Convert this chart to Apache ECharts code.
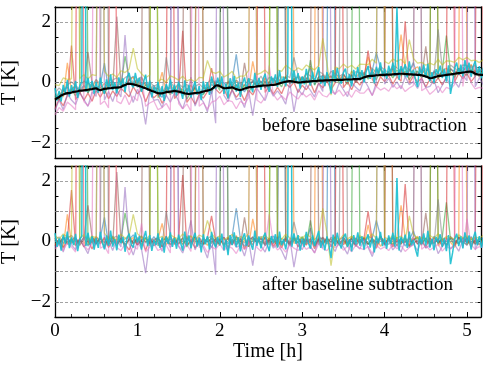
<!DOCTYPE html>
<html>
<head>
<meta charset="utf-8">
<script src="https://cdn.jsdelivr.net/npm/echarts@6/dist/echarts.min.js"></script>
<style>html,body{margin:0;padding:0;background:#fff}#c{width:488px;height:370px}</style>
</head>
<body>
<div id="c"></div>
<script>
// ---- data (hundredths of K) ----
// most sensors sampled every 0.05 h, cyan sensor and baseline every 0.025 h (0 .. 5.2 h)
const coarseStepH = 0.05;
const fineStepH = 0.025;
const xTickLabels = ['0','1','2','3','4','5'];
const yTickLabels = ['\u22122','0','2'];
const panelTexts = ['before baseline subtraction','after baseline subtraction'];

// baseline (black line in the upper panel), every 0.025 h
const baseline = [
-57,-52,-48,-43,-40,-37,-35,-35,-33,-31,-30,-29,-27,-27,-26,-25,-24,-23,-22,-20,
-19,-23,-26,-23,-21,-20,-19,-19,-18,-17,-17,-16,-15,-11,-8,-5,-4,-5,-6,-8,
-10,-12,-14,-17,-19,-22,-25,-28,-30,-33,-35,-36,-36,-34,-32,-31,-30,-29,-28,-29,
-30,-32,-34,-36,-37,-38,-37,-36,-35,-34,-34,-32,-30,-28,-27,-25,-22,-17,-10,-9,
-12,-16,-19,-19,-18,-17,-16,-19,-22,-24,-25,-23,-20,-18,-16,-15,-15,-14,-13,-12,
-11,-10,-10,-10,-9,-8,-8,-7,-5,-3,-1,1,3,4,5,4,3,1,0,0,
1,2,3,3,4,5,5,5,6,6,6,7,7,7,8,8,8,9,9,9,
9,10,10,10,10,11,11,11,12,14,17,19,21,22,22,23,24,24,25,25,
25,26,26,26,27,28,28,29,29,29,28,28,27,27,26,26,25,25,24,22,
20,17,14,15,17,19,21,22,23,24,25,26,27,28,29,30,31,32,33,34,
35,36,36,33,29,27,26,25,25];

// per-sensor offsets before subtraction (hundredths of K)
const sensorOffsets = [5,10,0,-15,-15,5,-25,15,30,10];

// after baseline subtraction, per sensor (every 0.05 h)
const blueAfter = [
5,-12,8,15,-6,10,-3,12,-15,6,
-8,14,80,-10,18,-5,9,-14,7,22,
-11,4,13,-7,16,-2,-18,10,5,2000,
8,-9,12,-4,15,2000,-12,6,-20,11,
3,14,-8,17,110,9,-16,7,13,-3,
10,-14,6,18,-9,2000,4,-11,15,-6,
12,-3,45,-17,8,11,-7,2000,5,-10,
14,-6,9,-13,16,3,-8,12,70,18,
-11,7,13,-5,10,-15,6,35,-9,14,
2,-12,17,-6,9,-14,11,4,-8,13,
-5,16,-10,7,12];
const orangeAfter = [
-10,6,-18,90,-4,15,2000,-9,14,-6,
17,-3,8,-12,2000,-7,10,-16,5,13,
-8,19,-2,11,-14,7,60,-11,9,-5,
14,-10,5,18,-7,2000,3,-13,16,-2,
9,-15,12,-6,20,-9,4,-17,75,6,
-12,15,-4,8,-18,10,3,2000,-7,12,
-5,16,-9,7,2000,-13,11,-3,14,-8,
6,-14,18,-2,9,-11,55,-6,13,-16,
4,2000,-9,15,120,11,-13,7,17,-4,
10,-8,2000,-15,6,12,-3,-19,9,2000,
-10,14,-6,8,-12];
const greenAfter = [
12,-8,15,-5,9,-14,6,2000,-11,17,
-4,10,-16,8,13,-9,4,95,18,-6,
7,-12,11,-3,2000,-15,9,6,-10,14,
-7,12,-18,5,16,-4,-10,13,-6,9,
-14,2000,7,-9,15,-2,11,-17,6,12,
-5,14,-11,2000,8,-13,17,-6,10,-3,
16,-9,70,-14,12,-7,9,-2,15,-12,
6,-16,11,2000,-5,13,-10,7,-15,18,
-3,9,-12,14,-7,10,-18,5,13,-8,
11,-6,2000,-9,15,130,7,-13,16,-2,
-11,8,-7,13,-4];
const redAfter = [
-15,8,-22,6,170,-12,10,-18,4,-25,
9,-8,14,-20,5,-14,11,-9,-28,7,
-12,6,-30,10,-6,13,-18,4,2000,-10,
8,220,-14,5,-22,10,-7,12,85,3,
-9,14,-20,7,-12,9,-25,6,-11,15,
2000,-8,11,-16,4,-21,9,-6,13,-18,
5,-12,10,-24,7,-9,14,-17,6,2000,
-11,8,-19,12,-6,10,100,4,-22,9,
-7,13,-18,6,-10,190,-14,11,-8,5,
-20,12,-6,9,-16,7,2000,-11,14,-5,
10,-18,6,2000,-9];
const purpleAfter = [
-20,5,-35,12,-10,-28,8,-15,-40,6,
-12,2000,-22,4,-30,9,-18,180,-8,-45,
3,-25,-105,10,-14,-6,-32,5,-20,8,
-16,-38,7,70,-28,4,-19,-55,10,-110,
2000,-9,-30,6,-20,-12,-48,3,-80,9,
-14,-35,5,-22,-8,-30,-60,11,-85,-6,
-27,4,-15,-38,7,-21,2000,-10,-33,5,
-18,-42,6,-12,-25,8,-20,-50,-9,2000,
-15,3,-28,-11,-35,6,-19,-8,-30,4,
-22,-12,5,-40,-17,7,-25,-10,-32,6,
-14,2000,-28,5,-19];
const brownAfter = [
10,-5,14,-9,6,12,-13,8,120,15,
-7,11,-4,16,-10,230,5,-12,9,-6,
13,-8,2000,-14,7,10,-5,17,-11,4,
-9,12,2000,-6,15,-13,8,-2,11,-16,
6,-10,14,-4,9,-15,80,-7,16,-3,
11,-12,5,-8,17,-6,10,-14,3,13,
-9,7,-4,2000,-11,14,-2,9,-13,6,
15,-7,11,-16,4,12,-9,8,-5,17,
-10,2000,6,-13,11,-4,14,-8,5,-12,
95,-15,13,-3,7,-10,16,-6,11,-2,
14,-9,5,-12,8];
const pinkAfter = [
-25,-10,-30,-5,-18,-35,2000,-12,-28,-8,
2000,-22,-15,-40,2000,-20,-30,-8,-45,-14,
-26,60,-35,-18,-6,-30,-22,-12,-38,2000,
-15,-28,-9,-33,2000,-20,-12,-36,-18,-25,
-8,-30,-16,-22,-40,-12,-27,-9,2000,-20,
-32,-14,90,-6,-28,-18,-35,-11,-22,-30,
-10,-26,-17,-38,-8,-24,-30,-13,-20,-9,
-29,-15,-34,-11,-22,-27,-16,-40,-12,-25,
-18,-30,-9,-24,-14,-33,-20,-11,2000,-26,
-13,-28,-19,-8,-32,-16,-24,-10,2000,-21,
75,-12,-25,-17,-20];
const grayAfter = [
8,15,-6,12,20,4,-9,16,7,-3,
14,5,2000,-8,11,18,-4,9,13,-10,
6,17,-5,12,2,15,-12,100,19,-6,
11,3,16,-9,7,14,-3,10,18,-7,
5,2000,9,-12,15,6,-5,13,8,-2,
17,-8,11,4,-10,2000,7,-4,65,9,
-6,12,3,-11,16,8,-9,14,5,-3,
2000,7,-12,10,4,-7,18,9,-5,13,
2,-10,15,6,-8,12,-3,17,2000,-6,
11,4,-9,140,8,-12,16,3,-7,10,
6,-4,13,-8,9];
const oliveAfter = [
20,8,25,15,15,2000,10,22,5,18,
12,2000,28,9,16,4,24,11,19,90,
26,13,5,20,2000,10,17,3,22,14,
8,25,12,18,6,21,15,70,27,10,
19,7,14,23,5,16,11,26,2000,9,
13,21,6,2000,17,8,24,12,3,19,
10,25,15,7,20,110,28,-80,14,6,
22,9,17,4,19,13,8,25,10,2000,
15,6,21,12,18,3,85,24,9,13,
7,20,11,26,5,17,14,8,22,12,
18,6,15,10,21];
// cyan sensor, every 0.025 h
const cyanAfter = [
28,-18,10,-30,22,-8,33,-22,14,-12,25,-32,6,18,2000,-15,29,-9,17,-27,
11,-21,32,-5,-26,20,-14,36,-17,8,-29,23,-6,15,-34,12,26,-11,-20,30,
-3,18,-27,9,35,-15,21,-31,5,-12,27,-21,14,-37,17,-8,30,-18,11,-24,
23,-5,-30,33,-14,20,-23,8,29,-17,12,-36,24,-9,18,-26,32,-2,-20,15,
-12,26,-29,6,-45,21,-11,30,-18,14,-33,9,27,-15,20,-6,-27,36,-14,17,
-23,11,29,-9,-32,18,-5,24,-20,33,-12,8,-26,15,2000,-17,27,-8,21,-30,
9,-18,32,-3,-24,20,-14,12,35,-21,6,-29,17,-11,-55,23,-15,29,-5,-23,
14,26,-18,8,-33,21,-9,30,-14,17,-27,5,24,-20,12,-36,18,-6,32,-15,
11,-24,20,-8,29,-17,210,-30,15,-5,23,-21,33,-12,6,-26,-50,18,-9,27,
-14,35,-20,9,-29,15,-3,24,-18,12,-32,21,-75,-38,8,26,-15,17,-23,30,
-6,20,-27,11,32,-12,18,-21,14];

const sensors = [blueAfter, orangeAfter, greenAfter, redAfter, purpleAfter,
                 brownAfter, pinkAfter, grayAfter, oliveAfter, cyanAfter];
const colors = ['#1f77b4','#ff7f0e','#2ca02c','#d62728','#9467bd',
                '#8c564b','#e377c2','#7f7f7f','#bcbd22','#17becf'];

// ---- chart ----
const FONT = 'Liberation Serif';
const minus = v => (v < 0 ? '\u2212' + Math.abs(v) : String(v));

const grids = [
  {left: 55, right: 7, top: 7, height: 151, outerBoundsMode: 'none', containLabel: false},
  {left: 55, right: 7, top: 166, height: 151, outerBoundsMode: 'none', containLabel: false}
];

const xAxes = [], yAxes = [];
grids.forEach((g, gi) => {
  const bottomLabels = gi === 1;
  ['bottom', 'top'].forEach((pos, k) => {
    xAxes.push({
      type: 'value', gridIndex: gi, position: pos, min: 0, max: 5.17, interval: 1,
      axisLine: {show: true, onZero: false, lineStyle: {color: '#000', width: 1.3}},
      axisTick: {show: true, inside: true, length: 5, lineStyle: {color: '#000', width: 1}},
      minorTick: {show: true, splitNumber: 5, length: 3, lineStyle: {color: '#000', width: 0.8}},
      axisLabel: {show: bottomLabels && k === 0, margin: 5, fontFamily: FONT, fontSize: 19, color: '#000',
        formatter: v => { const s = String(v); return xTickLabels.indexOf(s) >= 0 ? s : ''; }},
      splitLine: {show: false},
      name: bottomLabels && k === 0 ? 'Time [h]' : '',
      nameLocation: 'middle', nameGap: 23,
      nameTextStyle: {fontFamily: FONT, fontSize: 20, color: '#000'}
    });
  });
  ['left', 'right'].forEach((pos, k) => {
    yAxes.push({
      type: 'value', gridIndex: gi, position: pos, min: -2.5, max: 2.5, interval: 0.5,
      axisLine: {show: true, onZero: false, lineStyle: {color: '#000', width: 1.3}},
      axisTick: {show: true, inside: true, length: 3.5, lineStyle: {color: '#000', width: 1}},
      axisLabel: {show: k === 0, margin: 4, fontFamily: FONT, fontSize: 19, color: '#000',
        formatter: v => { const s = minus(v); return yTickLabels.indexOf(s) >= 0 ? s : ''; }},
      splitLine: {show: false},
      name: k === 0 ? 'T [K]' : '',
      nameLocation: 'middle', nameGap: 30,
      nameTextStyle: {fontFamily: FONT, fontSize: 20, color: '#000'}
    });
  });
});

const series = [];
grids.forEach((g, gi) => {
  // dashed horizontal gridlines
  series.push({
    type: 'line', xAxisIndex: gi * 2, yAxisIndex: gi * 2, data: [], z: 1, silent: true,
    markLine: {silent: true, symbol: 'none', label: {show: false}, animation: false,
      lineStyle: {color: '#8a8a8a', type: [3, 2], width: 0.8},
      data: [-2, -1, 0, 1, 2].map(v => ({yAxis: v}))}
  });
  sensors.forEach((arr, si) => {
    const isCyan = si === sensors.length - 1;
    const step = isCyan ? fineStepH : coarseStepH;
    const ratio = Math.round(step / fineStepH);
    series.push({
      type: 'line', xAxisIndex: gi * 2, yAxisIndex: gi * 2, z: 2 + si,
      showSymbol: false, symbol: 'none', clip: true, silent: true,
      lineStyle: {color: colors[si], width: isCyan ? 1.5 : 1.3, opacity: isCyan ? 0.9 : 0.55},
      data: arr.map((v, i) => [+(i * step).toFixed(3),
        gi === 0 ? (v + sensorOffsets[si] + baseline[i * ratio]) / 100 : v / 100])
    });
  });
});
series.push({
  type: 'line', xAxisIndex: 0, yAxisIndex: 0, z: 20, showSymbol: false, symbol: 'none', clip: true,
  lineStyle: {color: '#000', width: 2.2},
  data: baseline.map((v, i) => [+(i * fineStepH).toFixed(3), v / 100])
});

const chart = echarts.init(document.getElementById('c'), null, {renderer: 'canvas'});
chart.setOption({
  animation: false,
  backgroundColor: '#fff',
  grid: grids,
  xAxis: xAxes,
  yAxis: yAxes,
  series: series,
  graphic: [
    {type: 'text', left: 262, top: 117, z: 100,
     style: {text: panelTexts[0], font: '19px "Liberation Serif"', fill: '#000'}},
    {type: 'text', left: 262, top: 276, z: 100,
     style: {text: panelTexts[1], font: '19px "Liberation Serif"', fill: '#000'}}
  ]
});
</script>
</body>
</html>
